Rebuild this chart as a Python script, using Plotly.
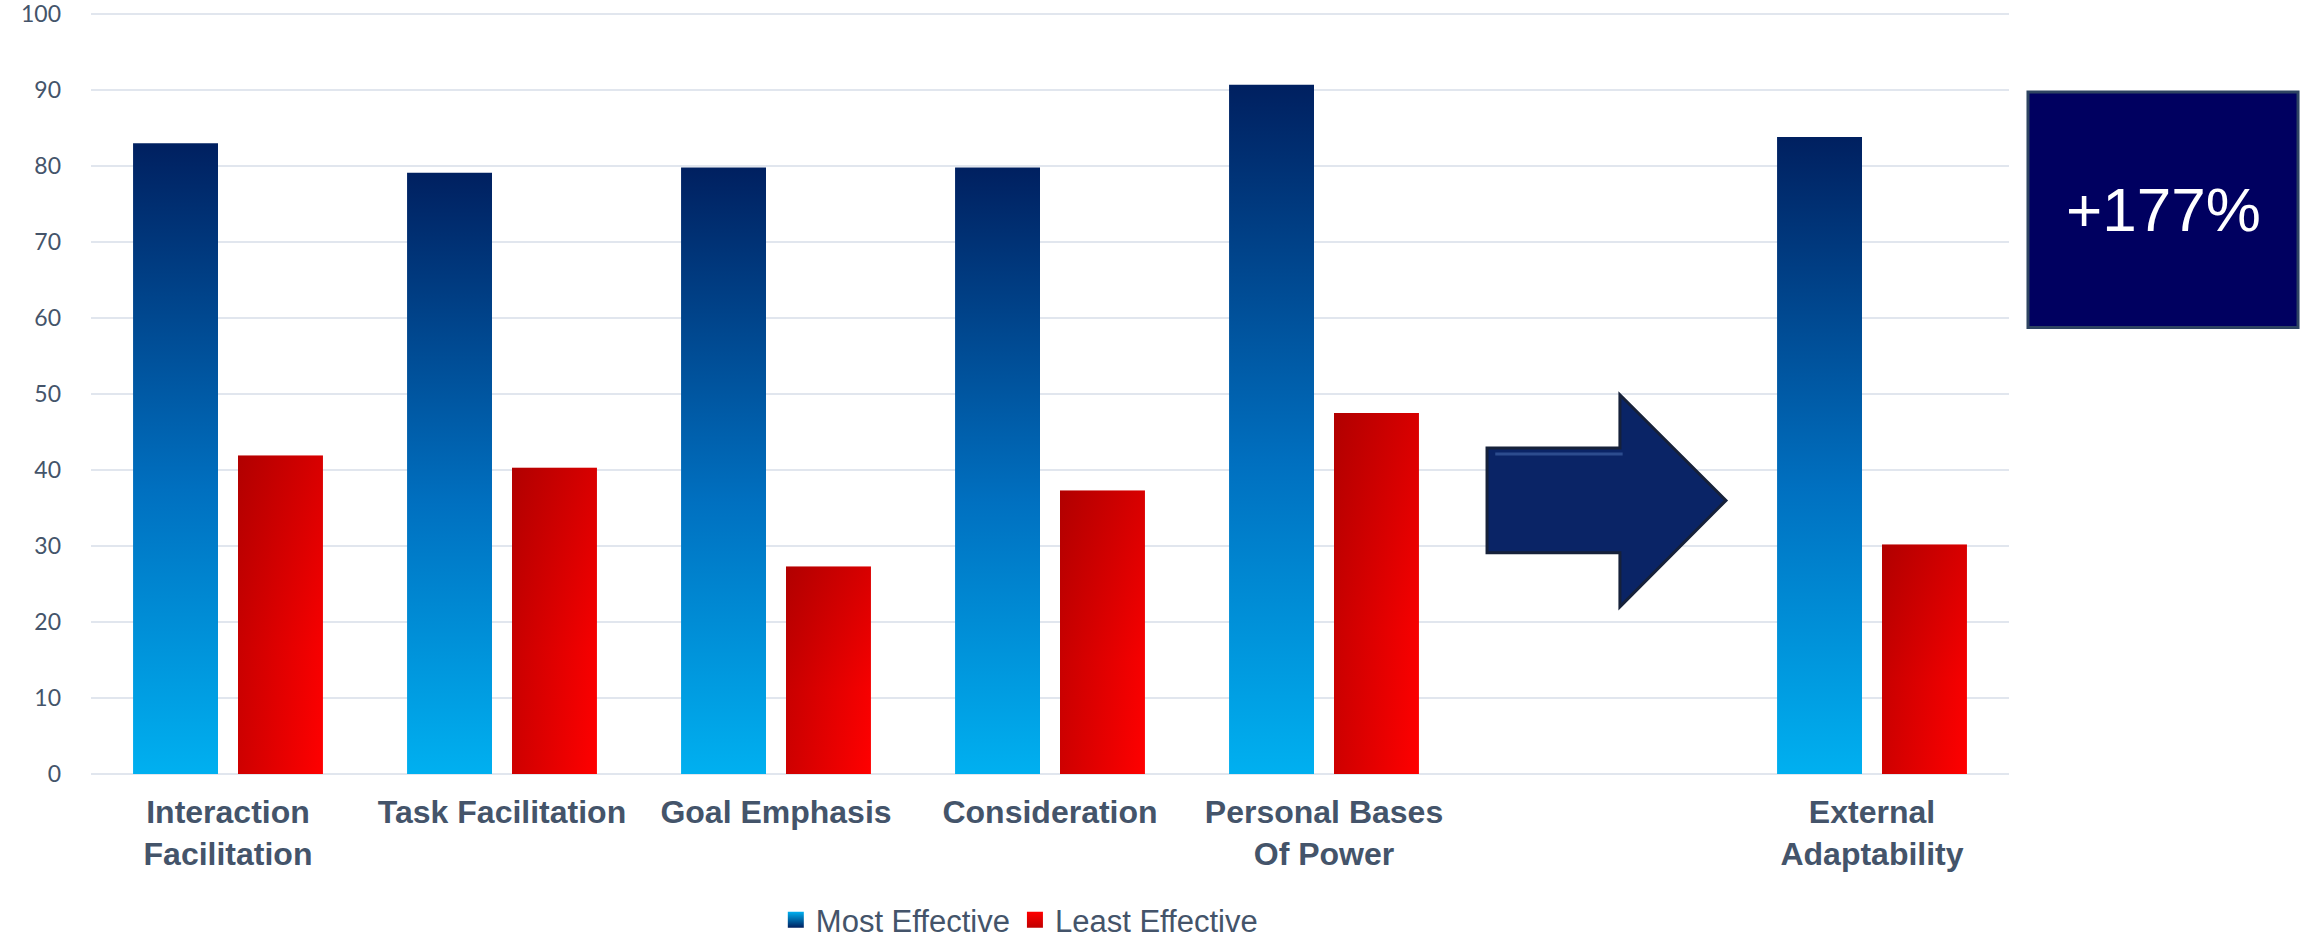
import plotly.graph_objects as go

# Leadership practice scores by group
categories = ["Interaction<br>Facilitation", "Task Facilitation", "Goal Emphasis",
              "Consideration", "Personal Bases<br>Of Power", "External<br>Adaptability"]
slots = [0, 1, 2, 3, 4, 6]          # slot 5 is left free for the arrow
most_effective = [83.0, 79.1, 79.8, 79.8, 90.7, 83.8]
least_effective = [41.9, 40.3, 27.3, 37.3, 47.5, 30.2]
series_names = ["Most Effective", "Least Effective"]
uplift_label = "+177%"
y_ticks = [0, 10, 20, 30, 40, 50, 60, 70, 80, 90, 100]

TEXT = "#44546A"
GRID = "#E1E6EE"
BAR_W = 0.31
INNER = 0.0365

BLUE_SCALE = [[0, "#00B0F0"], [0.45, "#0070C0"], [1, "#002060"]]
RED_SCALE = [[0, "#CE0000"], [1, "#FF0000"]]
RED_SHADE = [[0, "rgba(60,0,0,0)"], [0.4, "rgba(60,0,0,0.04)"], [1, "rgba(60,0,0,0.2)"]]


def rect(x0, x1, top):
    return [x0, x1, x1, x0, x0], [0, 0, top, top, 0]


fig = go.Figure()

for slot, hi, lo in zip(slots, most_effective, least_effective):
    # blue bar, left of the slot centre
    xs, ys = rect(slot - INNER - BAR_W, slot - INNER, hi)
    fig.add_trace(go.Scatter(
        x=xs, y=ys, mode="lines", line=dict(width=0), fill="toself",
        fillgradient=dict(type="vertical", colorscale=BLUE_SCALE),
        name=series_names[0], showlegend=False,
        hoveron="fills", hoverinfo="name+text", text=f"{hi}",
    ))
    # red bar, right of the slot centre
    xs, ys = rect(slot + INNER, slot + INNER + BAR_W, lo)
    fig.add_trace(go.Scatter(
        x=xs, y=ys, mode="lines", line=dict(width=0), fill="toself",
        fillgradient=dict(type="horizontal", colorscale=RED_SCALE),
        name=series_names[1], showlegend=False,
        hoveron="fills", hoverinfo="name+text", text=f"{lo}",
    ))
    # darker shading towards the top of the red bar
    fig.add_trace(go.Scatter(
        x=xs, y=ys, mode="lines", line=dict(width=0), fill="toself",
        fillgradient=dict(type="vertical", colorscale=RED_SHADE),
        showlegend=False, hoverinfo="skip",
    ))

# legend swatches
fig.add_trace(go.Scatter(
    x=[None], y=[None], mode="markers", name=series_names[0],
    marker=dict(symbol="square", size=16, color="#00B0F0",
                gradient=dict(type="vertical", color="#002060")),
))
fig.add_trace(go.Scatter(
    x=[None], y=[None], mode="markers", name=series_names[1],
    marker=dict(symbol="square", size=16, color="#FF0000",
                gradient=dict(type="vertical", color="#C00000")),
))

# block arrow in the free slot
arrow = ("M 4.595 29.1 L 5.08 29.1 L 5.08 22.0 L 5.467 36.0 L 5.08 49.9 "
         "L 5.08 42.9 L 4.595 42.9 Z")
fig.add_shape(type="path", path=arrow, xref="x", yref="y",
              fillcolor="#0A2466", line=dict(color="#16213A", width=3), layer="above")
fig.add_shape(type="line", x0=4.625, x1=5.09, y0=42.1, y1=42.1, xref="x", yref="y",
              line=dict(color="#2C4C8E", width=3), layer="above")

# uplift call-out box
fig.add_shape(type="rect", xref="paper", yref="paper",
              x0=1.0099, x1=1.1507, y0=0.586, y1=0.895,
              fillcolor="#000060", line=dict(color="#2E4462", width=3))
fig.add_annotation(text=uplift_label, xref="paper", yref="paper",
                   x=1.0803, y=0.7405, xanchor="center", yanchor="middle",
                   showarrow=False,
                   font=dict(family="Liberation Sans, Arial", size=62, color="white"))

fig.update_layout(
    width=2306, height=940,
    margin=dict(l=91, r=297, t=12, b=166, autoexpand=False),
    paper_bgcolor="white", plot_bgcolor="white",
    showlegend=True,
    legend=dict(orientation="h", x=0.484, xanchor="center", y=-0.1917, yanchor="middle",
                font=dict(family="Liberation Sans, Arial", size=31, color=TEXT),
                itemwidth=30, tracegroupgap=0),
    hovermode="closest",
)
fig.update_xaxes(
    range=[-0.5, 6.5], tickmode="array", tickvals=slots, ticktext=categories,
    showgrid=False, zeroline=False, showline=False, ticks="",
    tickfont=dict(family="Liberation Sans, Arial", size=32, color=TEXT, weight="bold"),
    ticklabelstandoff=16, automargin=False, fixedrange=True,
)
fig.update_yaxes(
    range=[0, 100.263], tickmode="array", tickvals=y_ticks,
    showgrid=True, gridcolor=GRID, gridwidth=2,
    zeroline=True, zerolinecolor=GRID, zerolinewidth=2,
    showline=False, ticks="",
    tickfont=dict(family="Lato, Open Sans", size=23, color=TEXT),
    ticklabelstandoff=29, ticklabeloverflow="allow", automargin=False, fixedrange=True,
)

fig.write_html("out.html")
